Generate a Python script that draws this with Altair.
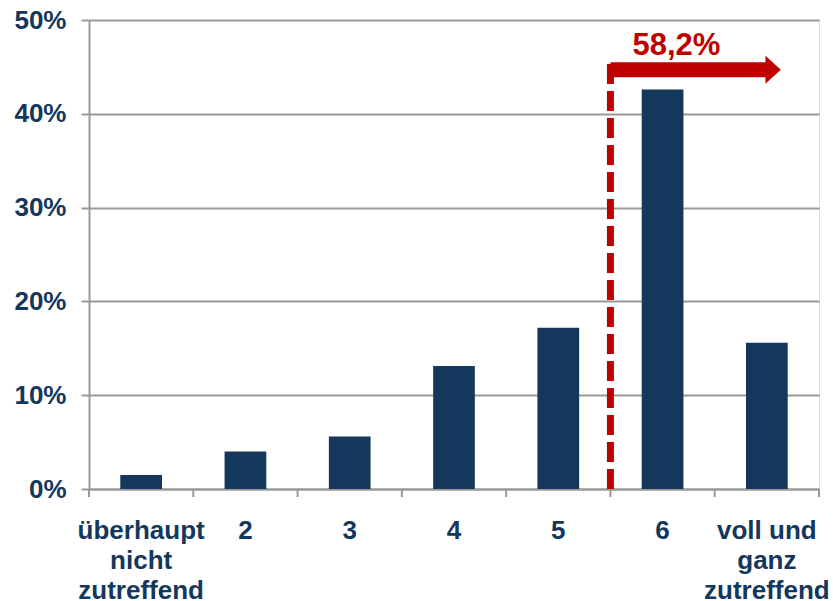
import altair as alt
import pandas as pd

categories = ["überhaupt\nnicht\nzutreffend", "2", "3", "4", "5", "6", "voll und\nganz\nzutreffend"]
shares = [1.5, 4.0, 5.6, 13.1, 17.2, 42.6, 15.6]  # percent

annot_label = "58,2%"
annot_start = "6"
annot_end = "voll und\nganz\nzutreffend"
annot_level = 44.7  # percent, arrow height
label_level = 46.3

NAVY = "#14375C"
RED = "#C00000"
GRAY = "#999999"
FONT = "Liberation Sans"

df = pd.DataFrame({"cat": categories, "v": [s / 100 for s in shares]})
x_scale = alt.Scale(domain=categories, paddingInner=0, paddingOuter=0)

bars = alt.Chart(df).mark_bar(color=NAVY, width={"band": 0.4}).encode(
    x=alt.X("cat:N", sort=categories, scale=x_scale, title=None,
            axis=alt.Axis(labelAngle=0, ticks=False, domainColor=GRAY, domainWidth=2,
                          labelExpr="split(datum.label, '\\n')", labelLineHeight=30,
                          labelFont=FONT, labelFontSize=26, labelFontWeight="bold",
                          labelColor=NAVY, labelPadding=28, labelBaseline="top")),
    y=alt.Y("v:Q", scale=alt.Scale(domain=[0, 0.5], nice=False), title=None,
            axis=alt.Axis(format=".0%", values=[0, 0.1, 0.2, 0.3, 0.4, 0.5],
                          grid=True, gridColor=GRAY, gridWidth=2,
                          domainColor=GRAY, domainWidth=2, tickColor=GRAY, tickWidth=2,
                          tickSize=8, labelPadding=15, labelFont=FONT, labelFontSize=26,
                          labelFontWeight="bold", labelColor=NAVY)),
)

tick_df = pd.DataFrame({"cat": categories})
ticks = alt.Chart(tick_df).mark_rule(color=GRAY, strokeWidth=2).encode(
    x=alt.X("cat:N", sort=categories, bandPosition=0),
    y=alt.value(469), y2=alt.value(477),
)
end_tick = alt.Chart(pd.DataFrame({"cat": [categories[-1]]})).mark_rule(color=GRAY, strokeWidth=2).encode(
    x=alt.X("cat:N", sort=categories, bandPosition=1),
    y=alt.value(469), y2=alt.value(477),
)

dash_df = pd.DataFrame({"cat": [annot_start], "y0": [0.0], "y1": [annot_level / 100 + 0.008]})
dashed = alt.Chart(dash_df).mark_rule(color=RED, strokeWidth=7, strokeDash=[20, 7]).encode(
    x=alt.X("cat:N", sort=categories, bandPosition=0),
    y="y0:Q", y2="y1:Q",
)

arrow_df = pd.DataFrame({"cat": [annot_start], "end": [annot_end], "y": [annot_level / 100]})
shaft = alt.Chart(arrow_df).mark_rule(color=RED, strokeWidth=15, strokeCap="butt").encode(
    x=alt.X("cat:N", sort=categories, bandPosition=0),
    x2=alt.X2("end:N", bandPosition=0.5),
    y="y:Q",
)

head_df = pd.DataFrame({"end": [annot_end], "y": [annot_level / 100]})
head = alt.Chart(head_df).mark_point(
    shape="M -0.55 -1 L 0.55 0 L -0.55 1 Z", size=784, filled=True, color=RED, opacity=1
).encode(
    x=alt.X("end:N", sort=categories, bandPosition=0.56),
    y="y:Q",
)

label_df = pd.DataFrame({"cat": [annot_start], "y": [label_level / 100], "t": [annot_label]})
label = alt.Chart(label_df).mark_text(
    color=RED, font=FONT, fontSize=31, fontWeight="bold", align="left", baseline="alphabetic", dx=22
).encode(
    x=alt.X("cat:N", sort=categories, bandPosition=0),
    y="y:Q",
    text="t:N",
)

chart = alt.layer(bars, ticks, end_tick, dashed, shaft, head, label).properties(
    width=730, height=469,
    padding={"left": 89, "top": 20, "right": 14, "bottom": 112},
    autosize="none",
).configure_view(stroke=None).configure(background="white")

chart.save("out.html", embed_options={"renderer": "svg", "actions": False})
